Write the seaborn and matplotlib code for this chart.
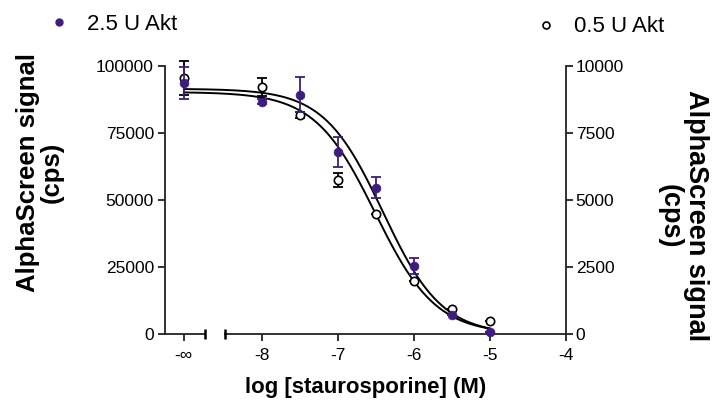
import numpy as np
import pandas as pd
import seaborn as sns
import matplotlib
matplotlib.use("Agg")
import matplotlib.pyplot as plt

sns.set_style("white")
plt.rcParams['font.family'] = ['Liberation Sans', 'DejaVu Sans']
for k in ("text.color", "axes.labelcolor", "xtick.color", "ytick.color"):
    plt.rcParams[k] = "black"

# ---------------- data ----------------
x_tick_pos = [-9.03, -8, -7, -6, -5, -4]
x_tick_labels = ["-\u221e", "-8", "-7", "-6", "-5", "-4"]

log_conc = [-9.03, -8, -7.5, -7, -6.5, -6, -5.5, -5]   # first = no inhibitor (-inf)

high_akt = [93700, 86700, 89300, 67900, 54500, 25400, 7100, 630]      # 2.5 U Akt (left axis)
high_err = [6000, 1000, 6600, 5600, 3900, 2900, 0, 0]
low_akt = [9550, 9220, 8170, 5750, 4480, 1980, 950, 500]              # 0.5 U Akt (right axis)
low_err = [630, 330, 125, 270, 0, 0, 0, 0]

# four-parameter logistic fits (top, bottom, logIC50, hill)
high_fit = (91500, -300, -6.41, 1.12)
low_fit = (9030, 0, -6.51, 1.09)

left_ticks = [0, 25000, 50000, 75000, 100000]
right_ticks = [0, 2500, 5000, 7500, 10000]

purple = "#3E1D7E"
axis_col = "#222222"


def logistic(x, top, bottom, c, h):
    return bottom + (top - bottom) / (1 + 10 ** ((x - c) * h))


xfit = np.linspace(log_conc[0], log_conc[-1], 300)
df_high = pd.DataFrame({"x": log_conc, "y": high_akt, "e": high_err})
df_low = pd.DataFrame({"x": log_conc, "y": low_akt, "e": low_err})
fit_high = pd.DataFrame({"x": xfit, "y": logistic(xfit, *high_fit)})
fit_low = pd.DataFrame({"x": xfit, "y": logistic(xfit, *low_fit)})

# ---------------- figure ----------------
fig = plt.figure(figsize=(7.13, 4.04), dpi=100)
ax = fig.add_axes([165 / 713, 1 - 334 / 404, (566 - 165) / 713, (334 - 66) / 404])
ax2 = ax.twinx()
ax.set_zorder(ax2.get_zorder() + 1)
ax.patch.set_visible(False)

# right axis series (0.5 U)
sns.lineplot(data=fit_low, x="x", y="y", ax=ax2, color="black", lw=1.4, zorder=2)
ax2.errorbar(df_low["x"], df_low["y"], yerr=df_low["e"], fmt="none", ecolor="black",
             elinewidth=1.3, capsize=3.6, capthick=1.3, zorder=3, clip_on=False)
sns.scatterplot(data=df_low, x="x", y="y", ax=ax2, marker="o", s=36, facecolor="white",
                edgecolor="black", linewidth=1.2, zorder=4, clip_on=False)

# left axis series (2.5 U)
sns.lineplot(data=fit_high, x="x", y="y", ax=ax, color="black", lw=1.4, zorder=2)
ax.errorbar(df_high["x"], df_high["y"], yerr=df_high["e"], fmt="none", ecolor=purple,
            elinewidth=1.3, capsize=3.6, capthick=1.3, zorder=3, clip_on=False)
sns.scatterplot(data=df_high, x="x", y="y", ax=ax, marker="o", s=40, color=purple,
                edgecolor=purple, linewidth=0.5, zorder=4, clip_on=False)

xmin = (165 - 262) / 76 - 8
brk_l = (205 - 262) / 76 - 8
brk_r = (225 - 262) / 76 - 8
for a in (ax, ax2):
    a.set_xlim(xmin, -4)
ax.set_ylim(0, 100000)
ax2.set_ylim(0, 10000)

# spines
for a in (ax, ax2):
    for s in a.spines.values():
        s.set_visible(False)
ax.spines["left"].set_visible(True)
ax.spines["bottom"].set_visible(True)
ax2.spines["right"].set_visible(True)
for s in (ax.spines["left"], ax.spines["bottom"], ax2.spines["right"]):
    s.set_color(axis_col)
    s.set_linewidth(1.3)
ax.spines["bottom"].set_bounds(brk_r, -4)
ax.plot([xmin, brk_l], [0, 0], color=axis_col, lw=1.3, clip_on=False, zorder=5)
ax.plot([brk_l, brk_r], [0, 0], ls="none", marker="|", ms=7, mew=1.8,
        color="black", clip_on=False, zorder=5)

# ticks
ax.set_xticks(x_tick_pos)
ax.set_xticklabels(x_tick_labels)
ax.xaxis.get_major_ticks()[0].tick1line.set_visible(False)
ax.set_yticks(left_ticks)
ax.set_yticklabels([str(v) for v in left_ticks])
ax2.set_yticks(right_ticks)
ax2.set_yticklabels([str(v) for v in right_ticks])
ax.tick_params(axis="x", direction="out", length=5, width=1.3, color=axis_col,
               labelsize=12.5, pad=5, bottom=True, labelcolor="black")
ax.tick_params(axis="y", direction="out", length=5, width=1.3, color=axis_col,
               labelsize=12.5, pad=3, left=True, labelcolor="black")
ax2.tick_params(axis="y", direction="out", length=5, width=1.3, color=axis_col,
                labelsize=12.5, pad=2, right=True, labelcolor="black")
ax.grid(False)
ax2.grid(False)

ax.set_ylabel("")
ax2.set_ylabel("")
ax.set_xlabel("log [staurosporine] (M)", fontsize=16, fontweight="bold", labelpad=10,
              color="black")

fig.text(40 / 713, 1 - 172 / 404, "AlphaScreen signal\n(cps)", rotation=90,
         ha="center", va="center", fontsize=18.5, fontweight="bold",
         multialignment="center", linespacing=1.0, color="black")
fig.text(683 / 713, 1 - 216 / 404, "AlphaScreen signal\n(cps)", rotation=270,
         ha="center", va="center", fontsize=19.5, fontweight="bold",
         multialignment="center", linespacing=1.0, color="black")

# legends
h1 = plt.Line2D([], [], ls="none", marker="o", ms=5, color=purple, label="2.5 U Akt")
h2 = plt.Line2D([], [], ls="none", marker="o", ms=5, mfc="white", mec="black",
                mew=1.2, label="0.5 U Akt")
for h, xa, ya in ((h1, 48, 24), (h2, 535, 27)):
    leg = fig.legend(handles=[h], loc="center left", bbox_to_anchor=(xa / 713, 1 - ya / 404),
                     frameon=False, fontsize=16, handlelength=1.0, handletextpad=0.75,
                     borderpad=0, borderaxespad=0)
    for t in leg.get_texts():
        t.set_color("black")

fig.savefig("out.png", dpi=100)
